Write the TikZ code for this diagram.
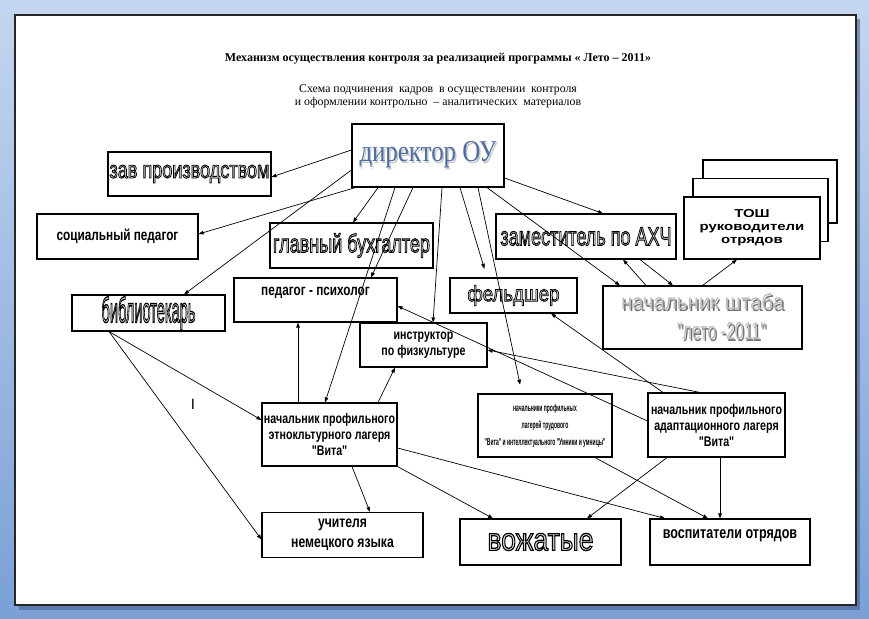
\documentclass[tikz,border=0pt]{standalone}
\usepackage{fontspec}
\usepackage{graphicx}
\usetikzlibrary{arrows.meta}
\setmainfont{Liberation Serif}
\newfontfamily\arialfont{Liberation Sans}
\newfontfamily\condfont[FakeStretch=0.76]{Liberation Sans}
\newfontfamily\thinfont[FakeStretch=0.5]{Liberation Sans}
\newfontfamily\widefont[FakeStretch=1.3]{Liberation Sans}
\definecolor{skytop}{RGB}{196,214,240}
\definecolor{skybottom}{RGB}{122,160,214}
\definecolor{pageshadow}{RGB}{70,95,140}
\definecolor{dirblue}{RGB}{78,110,162}
\newcommand\outlined[1]{\textcolor{black!15}{\special{pdf:literal direct 2 Tr 0 G 0.38 w}#1\special{pdf:literal direct 0 Tr}}}
\newcommand\wordart[3]{\resizebox{#1}{#2}{\arialfont\outlined{#3}}}
\newcommand\shadowed[3]{\makebox[0pt][l]{\hspace{1.5pt}\raisebox{-1.5pt}{\textcolor{#1}{#3}}}\textcolor{#2}{#3}}
\newcommand\lift[2]{\raisebox{#1}[0pt][0pt]{#2}}
\tikzset{
  post/.style={draw,line width=1.1pt,inner sep=0pt,align=center,fill=white},
  staff/.style={post,font=\condfont\bfseries\fontsize{14}{16}\selectfont},
  link/.style={-{Triangle[length=5pt,width=3.6pt]},line width=0.7pt}
}

\begin{document}
\begin{tikzpicture}[x=1pt,y=-1pt]
  \useasboundingbox (0,0) rectangle (869,618);
  \shade[top color=skytop,bottom color=skybottom] (0,0) rectangle (869,618);
  \fill[pageshadow,opacity=0.6] (19,19) rectangle (860,610);
  \draw[fill=white,draw=black!85,line width=1.3pt] (15,15) rectangle (856,605);

  \node[font=\bfseries\fontsize{12}{14}\selectfont] (title) at (438,59)
    {Механизм осуществления контроля за реализацией программы « Лето – 2011»};
  \node[align=center,font=\fontsize{11.8}{13}\selectfont] (subtitle) at (438,96)
    {Схема подчинения\ \ кадров\ \ в осуществлении\ \ контроля\\и оформлении контрольно\ \ – аналитических\ \ материалов};

  \node[post,minimum width=152pt,minimum height=63pt] (dir) at (428,155.5)
    {\shadowed{gray!45}{dirblue}{\resizebox{137pt}{20pt}{директор ОУ}}};
  \node[post,minimum width=163pt,minimum height=44pt] (zav) at (189.5,174) {\wordart{160pt}{13pt}{зав производством}};
  \node[staff,minimum width=161pt,minimum height=45pt,font=\condfont\bfseries\fontsize{15.5}{18}\selectfont] (soc) at (117.5,236.5) {социальный педагог};
  \node[post,minimum width=153pt,minimum height=36pt] (bib) at (148.5,313) {\wordart{94pt}{26pt}{библиотекарь}};
  \node[post,minimum width=163pt,minimum height=45pt] (buh) at (351.5,245.5) {\wordart{157pt}{19pt}{главный бухгалтер}};
  \node[staff,minimum width=163pt,minimum height=44pt,font=\condfont\bfseries\fontsize{15.5}{18}\selectfont] (psy) at (315.5,300) {\lift{5pt}{педагог - психолог}};
  \node[staff,minimum width=127pt,minimum height=44pt] (instr) at (423.5,345) {инструктор\\по физкультуре};
  \node[post,minimum width=127pt,minimum height=35pt] (feld) at (513.5,295.5) {\wordart{92pt}{16pt}{фельдшер}};
  \node[post,minimum width=180pt,minimum height=45pt] (zam) at (586,236.5) {\wordart{171pt}{18pt}{заместитель по АХЧ}};
  \node[post,minimum width=134pt,minimum height=63pt] (tosh3) at (770,191.5) {};
  \node[post,minimum width=135pt,minimum height=63pt] (tosh2) at (760.5,210) {};
  \node[post,minimum width=136pt,minimum height=62pt,font=\widefont\bfseries\fontsize{11.5}{13}\selectfont] (tosh) at (752,228)
    {ТОШ\\руководители\\отрядов};
  \node[post,minimum width=199pt,minimum height=63pt,font=\arialfont\fontsize{20}{30}\selectfont] (shtab) at (702.5,317.5)
    {\shadowed{black!55}{black!25}{\resizebox{163pt}{16pt}{начальник штаба}}\\
     \hspace*{38pt}\shadowed{black!55}{black!25}{\resizebox{89pt}{17pt}{"лето -2011"}}};
  \node[staff,minimum width=135pt,minimum height=63pt] (etno) at (329.5,434.5)
    {начальник профильного\\этнокльтурного лагеря\\"Вита"};
  \node[post,minimum width=134pt,minimum height=63pt,font=\thinfont\bfseries\fontsize{10}{17}\selectfont] (trud) at (545,425.5)
    {начальники профильных\\лагерей трудового\\"Вита" и интеллектуального "Умники и умницы"};
  \node[staff,minimum width=137pt,minimum height=64pt] (adapt) at (716.5,425)
    {начальник профильного\\адаптационного лагеря\\"Вита"};
  \node[staff,minimum width=161pt,minimum height=45pt,font=\condfont\bfseries\fontsize{16}{20}\selectfont] (uch) at (342.5,535)
    {учителя\\немецкого языка};
  \node[post,minimum width=161pt,minimum height=46pt] (vozh) at (540.5,542) {\wordart{106pt}{17pt}{вожатые}};
  \node[staff,minimum width=160pt,minimum height=46pt,font=\condfont\bfseries\fontsize{16.5}{20}\selectfont] (vosp) at (730,542)
    {\lift{4pt}{воспитатели отрядов}};
  \node[font=\arialfont\fontsize{15}{15}\selectfont] (mark) at (193,404) {I};

  \draw[link] ([yshift=5.5pt]dir.west) -- ([yshift=-3pt]zav.east);
  \draw[link] ([yshift=-14.5pt]dir.west) -- ([xshift=35.5pt]bib.north);
  \draw[link] ([xshift=4pt]dir.south west) -- ([yshift=2.5pt]soc.east);
  \draw[link] ([xshift=-50pt]dir.south) -- ([xshift=1.5pt]buh.north);
  \draw[link] ([xshift=-33pt]dir.south) -- ([xshift=-4.5pt]etno.north);
  \draw[link] ([xshift=-15pt]dir.south) -- ([xshift=55.5pt]psy.north);
  \draw[link] ([xshift=14pt]dir.south) -- ([xshift=9.5pt]instr.north);
  \draw[link,shorten >=9pt] ([xshift=32pt]dir.south) -- ([xshift=-26.5pt]feld.north);
  \draw[link,shorten >=9pt] ([xshift=50pt]dir.south) -- ([xshift=-23pt]trud.north);
  \draw[link] ([yshift=-22.5pt]dir.east) -- ([xshift=17pt]zam.north);
  \draw[link] ([xshift=59pt]dir.south) -- ([xshift=-82.5pt]shtab.north);
  \draw[link] ([xshift=-56.5pt]shtab.north) -- ([xshift=37pt]zam.south);
  \draw[link] ([xshift=54pt]zam.south) -- ([xshift=-29.5pt]shtab.north);
  \draw[link] (shtab.north) -- ([xshift=-15pt]tosh.south);
  \draw[link] ([xshift=-31.5pt]etno.north) -- ([xshift=-31.5pt]etno.north |- psy.south);
  \draw[link] ([xshift=48.5pt]etno.north) -- ([xshift=-28.5pt]instr.south);
  \draw[link] ([xshift=-39.5pt]bib.south) -- ([yshift=14.5pt]etno.west);
  \draw[link] ([xshift=-39.5pt]bib.south) -- ([yshift=-4.5pt]uch.west);
  \draw[link] ([xshift=22.5pt]etno.south) -- ([xshift=27.5pt]uch.north);
  \draw[link] (etno.south east) -- ([xshift=-47.5pt]vozh.north);
  \draw[link] ([yshift=-13.5pt]etno.east) -- ([xshift=-65pt]vosp.north);
  \draw[link] ([xshift=50pt]trud.south) -- ([xshift=-22pt]vosp.north);
  \draw[link] ([xshift=-49.5pt]adapt.south) -- ([xshift=46.5pt]vozh.north);
  \draw[link] ([xshift=3.5pt]adapt.south) -- ([xshift=3.5pt]adapt.south |- vosp.north);
  \draw[link] ([xshift=-53.5pt]adapt.north) -- ([xshift=37.5pt]feld.south);
  \draw[link] ([xshift=-16.5pt]adapt.north) -- ([yshift=-5pt]instr.east);
  \draw[link] ([yshift=4pt]adapt.west) -- ([yshift=-6pt]psy.east);
\end{tikzpicture}
\end{document}
